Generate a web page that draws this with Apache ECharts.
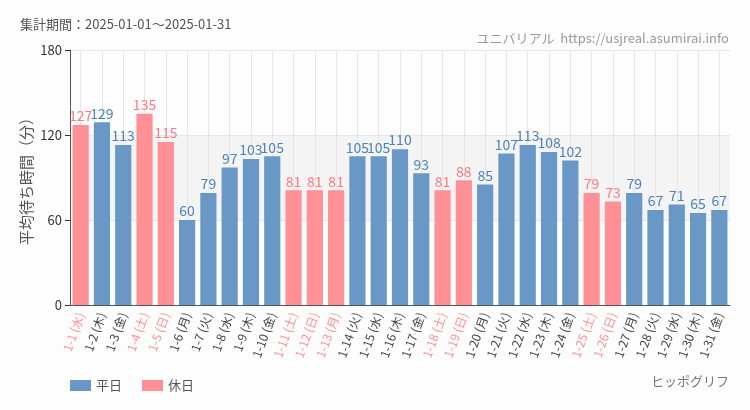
<!DOCTYPE html>
<html><head><meta charset="utf-8">
<script src="https://cdn.jsdelivr.net/npm/echarts@6/dist/echarts.min.js"></script>
<style>html,body{margin:0;padding:0;background:#fcfdfc;}#c{width:750px;height:410px;}</style>
</head><body><div id="c"></div>
<script>
const dates = ['1-1','1-2','1-3','1-4','1-5','1-6','1-7','1-8','1-9','1-10','1-11','1-12','1-13','1-14','1-15','1-16','1-17','1-18','1-19','1-20','1-21','1-22','1-23','1-24','1-25','1-26','1-27','1-28','1-29','1-30','1-31'];
const weekdays = ['水','木','金','土','日','月','火','水','木','金','土','日','月','火','水','木','金','土','日','月','火','水','木','金','土','日','月','火','水','木','金'];
const values = [127,129,113,135,115,60,79,97,103,105,81,81,81,105,105,110,93,81,88,85,107,113,108,102,79,73,79,67,71,65,67];
const holiday = [1,0,0,1,1,0,0,0,0,0,1,1,1,0,0,0,0,1,1,0,0,0,0,0,1,1,0,0,0,0,0];
const yTicks = [0,60,120,180];
const seriesNames = ['平日','休日'];

const BLUE = '#6a98c6', PINK = '#ff9096';
const cats = dates.map((d,i)=>d+' ('+weekdays[i]+')');
const wk = values.map((v,i)=>holiday[i]?null:v);
const hd = values.map((v,i)=>holiday[i]?v:null);

const narrow = '"Liberation Sans Narrow","Noto Sans CJK JP",sans-serif';

const chart = echarts.init(document.getElementById('c'), null, {renderer:'canvas'});
chart.setOption({
  backgroundColor:'#fcfdfc',
  animation:false,
  textStyle:{fontFamily:'"Noto Sans CJK JP","Noto Sans",sans-serif'},
  graphic:[
    {type:'text', left:20, top:18, style:{text:'集計期間：2025-01-01～2025-01-31', fill:'#555', font:'13px "Noto Sans CJK JP"'}},
    {type:'text', right:21, top:32, style:{text:'ユニバリアル  https://usjreal.asumirai.info', fill:'#999', font:'13px '+narrow}},
    {type:'text', right:21, top:375, style:{text:'ヒッポグリフ', fill:'#777', font:'13px '+narrow}}
  ],
  legend:{left:65, top:374, itemWidth:21, itemHeight:11, itemGap:20, icon:'rect',
    textStyle:{color:'#555', fontSize:13}, data:seriesNames},
  grid:{left:70, right:20, top:50, bottom:105},
  xAxis:{type:'category', data:cats,
    axisLine:{lineStyle:{color:'#555'}},
    axisTick:{alignWithLabel:true, lineStyle:{color:'#333'}, length:5},
    splitLine:{show:true, alignWithLabel:true, lineStyle:{color:'#e6e6e6'}},
    axisLabel:{rotate:70, interval:0, fontSize:12, margin:8,
      color:(v,i)=>holiday[i]?PINK:'#444'}},
  yAxis:{type:'value', min:0, max:180, interval:60,
    name:'平均待ち時間（分）', nameLocation:'middle', nameGap:36, nameRotate:90, nameMoveOverlap:false,
    nameTextStyle:{color:'#555', fontSize:15},
    axisLine:{show:true, lineStyle:{color:'#555'}},
    axisTick:{show:true, lineStyle:{color:'#333'}, length:5},
    axisLabel:{color:'#333', fontSize:13, margin:8,
      formatter:v=>yTicks.includes(v)?String(v):''},
    splitLine:{lineStyle:{color:'#e6e6e6'}},
    splitArea:{show:true, areaStyle:{color:['rgba(0,0,0,0)','#f3f4f3']}}},
  series:[
    {name:seriesNames[0], type:'bar', stack:'a', data:wk, barWidth:'76%', itemStyle:{color:BLUE},
      label:{show:true, position:'top', distance:2, color:'#4f82b8', fontSize:14, fontFamily:narrow}},
    {name:seriesNames[1], type:'bar', stack:'a', data:hd, barWidth:'76%', itemStyle:{color:PINK},
      label:{show:true, position:'top', distance:2, color:'#ff7880', fontSize:14, fontFamily:narrow}}
  ]
});
</script></body></html>
